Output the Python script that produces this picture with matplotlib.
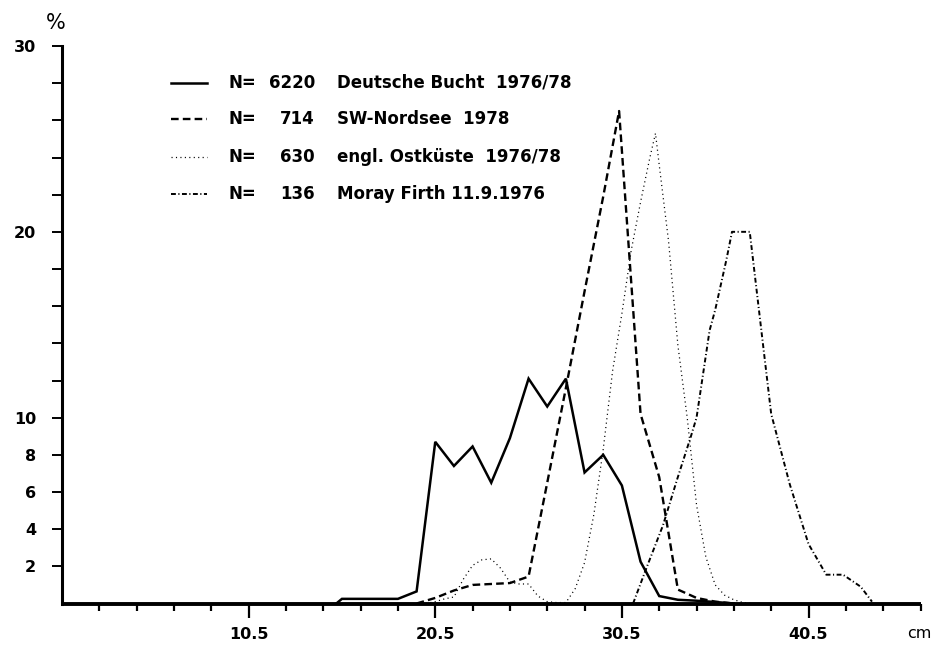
import matplotlib
matplotlib.use("Agg")
import matplotlib.pyplot as plt
from matplotlib.lines import Line2D

plt.rcParams['font.family'] = ['DejaVu Sans']
plt.rcParams['lines.scale_dashes'] = False

# ---- data (length in cm, frequency in %) ----
solid_x = [15.2, 15.5, 16.5, 17.5, 18.5, 19.5, 20.5, 21.5, 22.5, 23.5, 24.5, 25.5,
           26.5, 27.5, 28.5, 29.5, 30.5, 31.5, 32.5, 33.5, 34.5, 35.5, 36.5]
solid_y = [0, 0.25, 0.25, 0.25, 0.25, 0.65, 8.7, 7.4, 8.45, 6.5, 8.9, 12.1,
           10.6, 12.1, 7.05, 8.0, 6.35, 2.25, 0.4, 0.2, 0.15, 0.08, 0]

dashed_x = [19.5, 20.5, 21.5, 22.5, 23.5, 24.5, 25.5, 26.5, 27.5, 28.5, 29.5, 30.35,
            31.5, 32.5, 33.5, 34.5, 35.5, 36.5]
dashed_y = [0, 0.3, 0.7, 1.0, 1.05, 1.1, 1.45, 6.5, 11.6, 16.8, 21.9, 26.5,
            10.2, 6.8, 0.75, 0.3, 0.1, 0]

dotted_x = [20.0, 20.5, 21.0, 21.5, 22.0, 22.5, 23.0, 23.5, 24.0, 24.5, 25.0, 25.5,
            26.0, 26.5, 27.0, 27.5, 28.0, 28.5, 29.0, 29.5, 30.0, 30.5, 31.0, 31.5,
            32.0, 32.3, 32.5, 33.0, 33.5, 34.0, 34.5, 35.0, 35.5, 36.0, 36.5, 37.0, 37.5]
dotted_y = [0, 0.1, 0.25, 0.35, 1.3, 2.05, 2.35, 2.4, 1.9, 1.15, 1.05, 1.05,
            0.4, 0.1, 0.05, 0.05, 0.8, 2.2, 4.8, 8.3, 12.5, 15.6, 19.0, 21.6,
            24.0, 25.3, 23.6, 19.5, 13.9, 10.0, 5.3, 2.5, 1.0, 0.45, 0.2, 0.05, 0]

moray_x = [31.1, 31.85, 32.7, 33.45, 34.2, 34.5, 35.2, 35.5, 36.1, 36.4, 37.35,
           38.5, 39.5, 40.5, 41.45, 42.35, 43.3, 43.9]
moray_y = [0, 2.0, 4.2, 6.65, 9.0, 10.0, 14.7, 15.8, 18.5, 20.0, 20.0,
           10.2, 6.4, 3.2, 1.55, 1.55, 0.9, 0.1]

x_major = [10.5, 20.5, 30.5, 40.5]
x_major_labels = ["10.5", "20.5", "30.5", "40.5"]
x_minor = [2.5, 4.5, 6.5, 8.5, 12.5, 14.5, 16.5, 18.5, 22.5, 24.5, 26.5, 28.5,
           32.5, 34.5, 36.5, 38.5, 42.5, 44.5, 46.5]
y_major = [2, 4, 6, 8, 10, 20, 30]
y_major_labels = ["2", "4", "6", "8", "10", "20", "30"]
y_minor = [12, 14, 16, 18, 22, 24, 26, 28]

legend_n = ["6220", "714", "630", "136"]
legend_names = ["Deutsche Bucht  1976/78", "SW-Nordsee  1978",
                "engl. Ostküste  1976/78", "Moray Firth 11.9.1976"]

# ---- styles ----
W, H = 936, 645
fig = plt.figure(figsize=(W / 100, H / 100), dpi=100)
ax = fig.add_axes([62 / W, 1 - 603.5 / H, (920.5 - 62) / W, (603.5 - 46) / H])

sty_solid = dict(color='black', lw=1.8, linestyle='-')
sty_dashed = dict(color='black', lw=1.7, linestyle=(0, (5.5, 3.0)))
sty_dotted = dict(color='black', lw=0.9, linestyle=(0, (0.8, 2.4)))
sty_dashdot = dict(color='black', lw=1.4, linestyle=(0, (3.5, 1.8, 0.8, 1.8)))
styles = [sty_solid, sty_dashed, sty_dotted, sty_dashdot]

ax.plot(solid_x, solid_y, solid_joinstyle='miter', **sty_solid)
ax.plot(dashed_x, dashed_y, **sty_dashed)
ax.plot(dotted_x, dotted_y, **sty_dotted)
ax.plot(moray_x, moray_y, **sty_dashdot)

ax.set_xlim(0.5, 46.5)
ax.set_ylim(0, 30)

for s in ['top', 'right']:
    ax.spines[s].set_visible(False)
ax.spines['left'].set_linewidth(2.2)
ax.spines['bottom'].set_linewidth(2.8)
ax.spines['bottom'].set_capstyle('butt')

ax.set_xticks(x_major)
ax.set_xticklabels(x_major_labels)
ax.set_xticks(x_minor, minor=True)
ax.set_yticks(y_major)
ax.set_yticklabels(y_major_labels)
ax.set_yticks(y_minor, minor=True)

ax.tick_params(axis='x', which='major', direction='out', length=10, width=1.6,
               pad=7, labelsize=11.5)
ax.tick_params(axis='x', which='minor', direction='out', length=5, width=1.6)
ax.tick_params(axis='y', which='both', direction='out', length=7.5, width=1.4,
               pad=11, labelsize=11.5)
for lab in ax.get_xticklabels() + ax.get_yticklabels():
    lab.set_fontweight('bold')

# axis unit labels
fig.text(56 / W, 1 - 23 / H, "%", ha='center', va='center', fontsize=15)
fig.text(919 / W, 1 - 633 / H, "cm", ha='center', va='center', fontsize=11.5)

# ---- legend (drawn by hand, figure pixel positions) ----
rows_py = [82.7, 119.3, 156.7, 194.0]
for i, py in enumerate(rows_py):
    yf = 1 - py / H
    fig.add_artist(Line2D([171 / W, 207 / W], [yf, yf], transform=fig.transFigure,
                          **styles[i]))
    fig.text(228 / W, yf, "N=", ha='left', va='center', fontsize=12,
             fontweight='bold')
    fig.text(315 / W, yf, legend_n[i], ha='right', va='center', fontsize=12,
             fontweight='bold')
    fig.text(337 / W, yf, legend_names[i], ha='left', va='center', fontsize=12,
             fontweight='bold')

fig.savefig("out.png", dpi=100)
